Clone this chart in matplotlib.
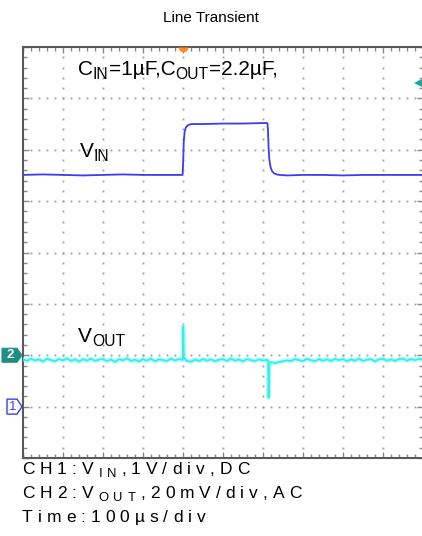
import numpy as np
import matplotlib
matplotlib.use("Agg")
import matplotlib.pyplot as plt
from matplotlib.transforms import IdentityTransform
from matplotlib.font_manager import FontProperties
from matplotlib.patches import Polygon

plt.rcParams['font.family'] = ['Liberation Sans', 'DejaVu Sans']

# ---- data read off the scope shot ----
# time in us, 100us/div, 10 div
vin_t = [0, 50, 100, 150, 200, 250, 300, 350, 399, 400.5, 402, 404, 407, 411, 416, 422,
         450, 500, 550, 600, 611, 612.5, 614, 616, 619, 623, 628, 634, 642, 660, 700,
         750, 800, 850, 900, 950, 1000]
vin_v = [4.51, 4.52, 4.51, 4.50, 4.51, 4.52, 4.51, 4.51, 4.51, 4.78, 5.17, 5.35, 5.43, 5.47, 5.49, 5.50,
         5.50, 5.51, 5.51, 5.52, 5.52, 5.38, 5.03, 4.80, 4.66, 4.58, 4.54, 4.52, 4.51, 4.50, 4.51,
         4.51, 4.50, 4.51, 4.51, 4.51, 4.51]

# VOUT (AC, mV) sampled every 10us
vout_base_mv = [
    -1.5, -2.2, -1.3, -2.0, -1.6, -2.4, -1.4, -1.9, -2.3, -1.5,
    -2.0, -1.2, -2.2, -1.6, -2.5, -1.5, -2.1, -1.3, -2.2, -1.7,
    -1.4, -2.3, -1.6, -2.6, -1.5, -2.0, -1.2, -2.2, -1.7, -2.4,
    -1.5, -2.1, -1.3, -2.3, -1.6, -1.9, -2.2, -1.3, -2.0, -1.5,
    -1.3, -2.3, -2.5, -1.7, -2.2, -1.5, -2.1, -1.6, -2.3, -1.7,
    -1.5, -2.2, -1.3, -2.1, -1.6, -2.4, -1.5, -1.9, -2.2, -1.6,
    -2.0, -1.8, -2.7, -3.0, -2.6, -2.3, -2.0, -2.2, -1.5, -1.9,
    -2.2, -1.4, -1.9, -2.3, -1.5, -2.1, -1.6, -2.2, -1.4, -1.9,
    -1.5, -2.3, -1.6, -2.1, -1.3, -2.2, -1.7, -1.5, -2.4, -1.6,
    -1.4, -2.1, -1.6, -2.2, -1.5, -1.3, -2.1, -1.5, -1.9, -1.4,
    -1.7]
spike_t = [399, 400.5, 402, 404, 613, 614, 615.5, 617]
spike_mv = [-1.8, 11.2, -0.6, -1.2, -2.2, -16.5, -3.8, -2.8]

ch1_offset = 1.0   # div, 1V/div
ch2_offset = 2.0   # div, 20mV/div

title = "Line Transient"
info_lines = [
    [("CH1:V", 0), ("IN", 1), (",1V/div,DC", 0)],
    [("CH2:V", 0), ("OUT", 1), (",20mV/div,AC", 0)],
    [("Time:100\u00b5s/div", 0)],
]

W, H = 422, 536
fig = plt.figure(figsize=(W / 100, H / 100), dpi=100)
ax = fig.add_axes([23 / W, (H - 458) / H, 400 / W, 411 / H])
ax.set_xlim(0, 1000)
ax.set_ylim(0, 8)

# grid as dots, like the scope graticule
for j in range(1, 8):
    xs = np.arange(20, 1000, 20)
    ax.plot(xs, np.full(len(xs), j), 's', ms=1.3, color='#9a9a9a', mew=0, zorder=1)
for i in range(1, 10):
    ys = np.arange(0.2, 8, 0.2)
    ax.plot(np.full(len(ys), i * 100), ys, 's', ms=1.3, color='#9a9a9a', mew=0, zorder=1)

ax.set_xticks(np.arange(0, 1001, 100))
ax.set_xticks(np.arange(0, 1001, 20), minor=True)
ax.set_yticks(np.arange(0, 9, 1))
ax.set_yticks(np.arange(0, 8.01, 0.2), minor=True)
ax.tick_params(which='both', direction='in', top=True, right=True,
               labelbottom=False, labelleft=False, color='#888888', width=1)
ax.tick_params(which='major', length=4)
ax.tick_params(which='minor', length=3)
for s in ax.spines.values():
    s.set_color('#5a5a5a')
    s.set_linewidth(1.5)

# traces
ax.plot(vin_t, np.array(vin_v) + ch1_offset, color='#3c3cf2', lw=1.3, zorder=3)

vt = np.concatenate([np.arange(0, 1001, 10), spike_t])
vm = np.concatenate([vout_base_mv, spike_mv])
order = np.argsort(vt, kind='stable')
ax.plot(vt[order], vm[order] / 20.0 + ch2_offset, color='#7ff7f7', lw=3.2, alpha=0.55, zorder=3)
ax.plot(vt[order], vm[order] / 20.0 + ch2_offset, color='#2ff0f0', lw=1.3, zorder=3)

# trigger / misc markers
ax.plot([400], [8], marker='o', ms=7, color='#ff8a1e', fillstyle='bottom', mew=0, clip_on=False, zorder=5)
ax.plot([988], [7.3], marker='<', ms=6, color='#1fa59a', mew=0, clip_on=False, zorder=5)
ax.plot([988, 1000], [7.3, 7.3], color='#1fa59a', lw=1.5, clip_on=False, zorder=5)

fig.canvas.draw()
r = fig.canvas.get_renderer()


def adv(s, prop):
    w2, _, _ = r.get_text_width_height_descent(s + 'x', prop, ismath=False)
    w1, _, _ = r.get_text_width_height_descent('x', prop, ismath=False)
    return w2 - w1


def draw_parts(x, ybase, parts, size, track=0.0, color='black'):
    # text with subscripts, optional letter spacing
    y = H - ybase
    for s, sub in parts:
        fs = size * 0.75 if sub else size
        yy = y - size * 100 / 72 * 0.17 if sub else y
        prop = FontProperties(family=['Liberation Sans', 'DejaVu Sans'], size=fs)
        if track == 0:
            fig.text(x, yy, s, fontproperties=prop, transform=IdentityTransform(),
                     va='baseline', ha='left', color=color)
            x += adv(s, prop)
        else:
            for ch in s:
                fig.text(x, yy, ch, fontproperties=prop, transform=IdentityTransform(),
                         va='baseline', ha='left', color=color)
                x += adv(ch, prop) + track


fig.text(211 / W, 1 - 18 / H, title, ha='center', va='center', fontsize=11)

draw_parts(78, 75, [("C", 0), ("IN", 1), ("=1\u00b5F,C", 0), ("OUT", 1), ("=2.2\u00b5F,", 0)], 15)
draw_parts(80, 157, [("V", 0), ("IN", 1)], 15)
draw_parts(78, 342, [("V", 0), ("OUT", 1)], 15)

for k, parts in enumerate(info_lines):
    draw_parts(22, 474 + 24 * k, parts, 12.5, track=5.0)

# channel ground markers on the left edge
y2 = ax.transData.transform((0, ch2_offset))[1]
y1 = ax.transData.transform((0, ch1_offset))[1]
fig.add_artist(Polygon([(2, y2 + 7), (17, y2 + 7), (22, y2), (17, y2 - 7), (2, y2 - 7)],
                       closed=True, transform=IdentityTransform(), fc='#1f8f86', ec='#1f8f86', lw=0.8))
fig.text(10, y2, "2", transform=IdentityTransform(), ha='center', va='center',
         color='white', fontsize=9.5, fontweight='bold')
fig.add_artist(Polygon([(7, y1 + 7.5), (17, y1 + 7.5), (22, y1), (17, y1 - 7.5), (7, y1 - 7.5)],
                       closed=True, transform=IdentityTransform(), fc='white', ec='#3c3cf2', lw=1))
fig.text(13, y1, "1", transform=IdentityTransform(), ha='center', va='center',
         color='#3c3cf2', fontsize=9.5)

fig.savefig("out.png", dpi=100)
